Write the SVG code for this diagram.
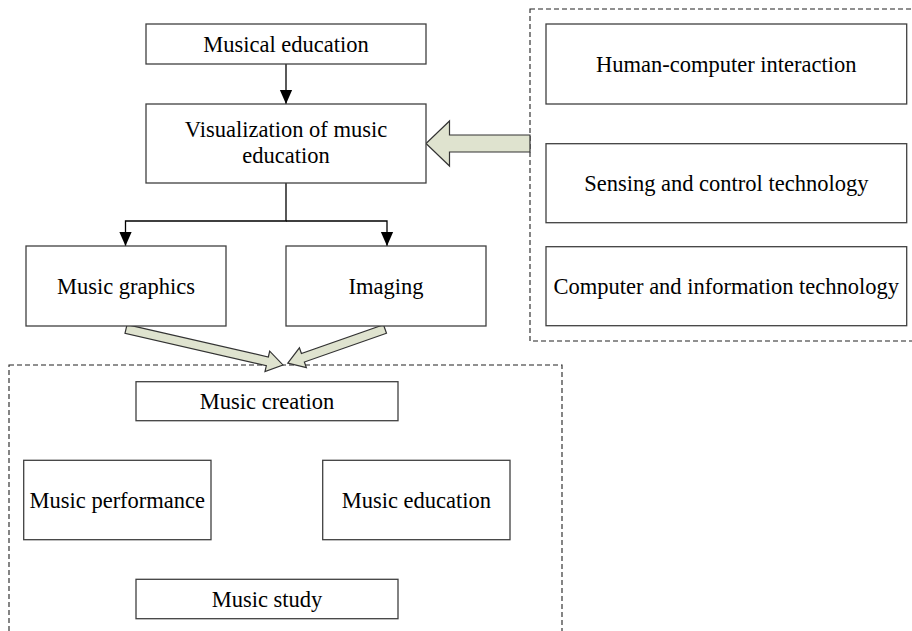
<svg xmlns="http://www.w3.org/2000/svg" width="912" height="631" viewBox="0 0 912 631">
<style>
.box{fill:#fff;stroke:#404040;stroke-width:1.3}
.dash{fill:none;stroke:#222;stroke-width:1.1;stroke-dasharray:5,3}
.t{font-family:"Liberation Serif","Times New Roman",serif;font-size:22.5px;fill:#000;text-anchor:middle}
.ln{fill:none;stroke:#000;stroke-width:1.3}
.fat{fill:#dfe3cf;stroke:#333;stroke-width:1.2;stroke-linejoin:miter}
</style>
<defs>
<marker id="ah" markerWidth="14" markerHeight="16" refX="16" refY="7" viewBox="0 0 16 14" markerUnits="userSpaceOnUse" orient="auto">
<path d="M0,0 L16,7 L0,14 Z" fill="#000"/>
</marker>
</defs>
<rect width="912" height="631" fill="#fff"/>
<g id="groups">
<rect id="tech-group" class="dash" x="530" y="9" width="390" height="332"/>
<rect id="app-group" class="dash" x="9" y="365" width="553" height="280"/>
</g>
<g id="connectors">
<path class="ln" d="M286,64 V104" marker-end="url(#ah)"/>
<path class="ln" d="M286,183 V221 H125.5 V246" marker-end="url(#ah)"/>
<path class="ln" d="M286,221 H387 V246" marker-end="url(#ah)"/>
<polygon class="fat" points="530,135 449.5,135 449.5,121 426,143.5 449.5,166 449.5,152 530,152"/>
<polygon class="fat" transform="translate(126,329) rotate(12.9)" points="0,-4.5 145,-4.5 145,-10.5 161,0 145,10.5 145,4.5 0,4.5"/>
<polygon class="fat" transform="translate(385,329) rotate(160.7)" points="0,-4.5 87,-4.5 87,-10.5 103,0 87,10.5 87,4.5 0,4.5"/>
</g>
<g id="musical-education">
<rect class="box" x="146" y="24" width="280" height="40"/>
<text class="t" x="286" y="52">Musical education</text>
</g>
<g id="visualization">
<rect class="box" x="146" y="104" width="280" height="79"/>
<text class="t" x="286" y="137">Visualization of music</text>
<text class="t" x="286" y="163">education</text>
</g>
<g id="music-graphics">
<rect class="box" x="26" y="246" width="200" height="80"/>
<text class="t" x="126" y="294">Music graphics</text>
</g>
<g id="imaging">
<rect class="box" x="286" y="246" width="200" height="80"/>
<text class="t" x="386" y="294">Imaging</text>
</g>
<g id="hci">
<rect class="box" x="546" y="24" width="360.7" height="80"/>
<text class="t" x="726.3" y="72">Human-computer interaction</text>
</g>
<g id="sensing">
<rect class="box" x="546" y="143.7" width="360.7" height="79"/>
<text class="t" x="726.3" y="191">Sensing and control technology</text>
</g>
<g id="computer">
<rect class="box" x="546" y="246.7" width="360.7" height="79"/>
<text class="t" x="726.3" y="294">Computer and information technology</text>
</g>
<g id="music-creation">
<rect class="box" x="136" y="381.7" width="262" height="39"/>
<text class="t" x="267" y="409">Music creation</text>
</g>
<g id="music-performance">
<rect class="box" x="23.7" y="460.3" width="187.3" height="79.4"/>
<text class="t" x="117.3" y="508">Music performance</text>
</g>
<g id="music-education">
<rect class="box" x="322.7" y="460.3" width="187.3" height="79.4"/>
<text class="t" x="416.3" y="508">Music education</text>
</g>
<g id="music-study">
<rect class="box" x="136" y="579.3" width="262" height="39.4"/>
<text class="t" x="267" y="607">Music study</text>
</g>
</svg>
